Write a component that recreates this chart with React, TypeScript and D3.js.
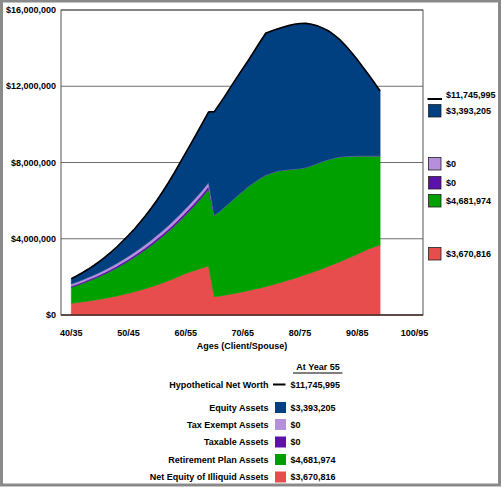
import React from "react";
import * as d3 from "d3";

// ---------- DATA (values in $ millions) ----------
const ages = [
  40, 41, 42, 43, 44, 45, 46, 47, 48, 49, 50, 51, 52, 53, 54, 55, 56, 57, 58, 59,
  60, 61, 62, 63, 64, 65, 66, 67, 68, 69, 70, 71, 72, 73, 74, 75, 76, 77, 78, 79,
  80, 81, 82, 83, 84, 85, 86, 87, 88, 89, 90, 91, 92, 93, 94,
];

const illiquid = [
  0.61, 0.65, 0.69, 0.73, 0.78, 0.83, 0.88, 0.94, 1.0, 1.07, 1.14, 1.22, 1.3, 1.39, 1.48, 1.58, 1.69, 1.8, 1.92, 2.05,
  2.18, 2.28, 2.38, 2.48, 2.57, 0.96, 1.0, 1.05, 1.1, 1.16, 1.22, 1.28, 1.35, 1.42, 1.49, 1.57, 1.65, 1.74, 1.83, 1.92,
  2.02, 2.12, 2.22, 2.33, 2.44, 2.56, 2.68, 2.8, 2.93, 3.06, 3.19, 3.33, 3.46, 3.58, 3.67,
];

const retirement = [
  0.84, 0.9, 0.97, 1.05, 1.12, 1.2, 1.29, 1.38, 1.48, 1.58, 1.69, 1.8, 1.92, 2.04, 2.17, 2.31, 2.44, 2.59, 2.74, 2.9,
  3.07, 3.28, 3.51, 3.75, 4.03, 4.29, 4.45, 4.67, 4.88, 5.09, 5.28, 5.47, 5.62, 5.75, 5.85, 5.88, 5.9, 5.86, 5.8, 5.74,
  5.67, 5.62, 5.62, 5.62, 5.62, 5.6, 5.56, 5.5, 5.4, 5.28, 5.16, 5.02, 4.89, 4.77, 4.68,
];

const taxable = [
  0.07, 0.07, 0.075, 0.08, 0.08, 0.085, 0.09, 0.09, 0.095, 0.1, 0.1, 0.105, 0.11, 0.11, 0.115, 0.12, 0.12, 0.125, 0.13, 0.13,
  0.135, 0.14, 0.14, 0.145, 0.15, 0, 0, 0, 0, 0, 0, 0, 0, 0, 0, 0, 0, 0, 0, 0,
  0, 0, 0, 0, 0, 0, 0, 0, 0, 0, 0, 0, 0, 0, 0,
];

const taxExempt = [
  0.1, 0.105, 0.11, 0.115, 0.12, 0.125, 0.13, 0.135, 0.14, 0.145, 0.15, 0.155, 0.16, 0.165, 0.17, 0.175, 0.18, 0.185, 0.19, 0.195,
  0.2, 0.2, 0.2, 0.2, 0.2, 0, 0, 0, 0, 0, 0, 0, 0, 0, 0, 0, 0, 0, 0, 0,
  0, 0, 0, 0, 0, 0, 0, 0, 0, 0, 0, 0, 0, 0, 0,
];

const equity = [
  0.28, 0.335, 0.385, 0.435, 0.51, 0.59, 0.67, 0.765, 0.865, 0.985, 1.1, 1.22, 1.36, 1.515, 1.675, 1.845, 2.05, 2.25, 2.47, 2.705,
  2.915, 3.13, 3.33, 3.525, 3.7, 5.42, 5.65, 5.83, 6.04, 6.23, 6.43, 6.63, 6.88, 7.15, 7.44, 7.45, 7.45, 7.5, 7.55, 7.59,
  7.6, 7.56, 7.41, 7.22, 6.99, 6.74, 6.44, 6.13, 5.79, 5.43, 5.05, 4.65, 4.25, 3.83, 3.4,
];

const yTicks = [0, 4, 8, 12, 16];
const xTicks = [40, 50, 60, 70, 80, 90, 100];
const xTickLabels = ["40/35", "50/45", "60/55", "70/65", "80/75", "90/85", "100/95"];

const seriesKeys = ["illiquid", "retirement", "taxable", "taxExempt", "equity"];
const seriesNames = [
  "Net Equity of Illiquid Assets",
  "Retirement Plan Assets",
  "Taxable Assets",
  "Tax Exempt Assets",
  "Equity Assets",
];
const seriesColors = ["#e84d4d", "#00a000", "#5c12aa", "#b58fdc", "#003f80"];

const netWorthLabel = "Hypothetical Net Worth";
const netWorthValue = 11745995;
const legendValues = [3670816, 4681974, 0, 0, 3393205]; // same order as seriesKeys
const legendTitle = "At Year 55";
const xAxisTitle = "Ages (Client/Spouse)";

// ---------- LAYOUT ----------
const W = 502;
const H = 487;
const plot = { left: 61, right: 423, top: 10, bottom: 315 };
const font = "'Liberation Sans', Arial, sans-serif";

export default function App() {
  const rows = ages.map((a, i) => ({
    age: a,
    illiquid: illiquid[i],
    retirement: retirement[i],
    taxable: taxable[i],
    taxExempt: taxExempt[i],
    equity: equity[i],
  }));

  const x = d3.scaleLinear().domain([38.2, 101.5]).range([plot.left, plot.right]);
  const y = d3.scaleLinear().domain([0, 16]).range([plot.bottom, plot.top]);

  const stacked = d3.stack<any>().keys(seriesKeys)(rows);

  const area = d3
    .area<any>()
    .x((d) => x(d.data.age))
    .y0((d) => y(d[0]))
    .y1((d) => y(d[1]));

  const top = stacked[stacked.length - 1];
  const line = d3
    .line<any>()
    .x((d) => x(d.data.age))
    .y((d) => y(d[1]));

  const fmt = d3.format("$,");
  const fmtAxis = (v: number) => fmt(v * 1e6);

  // right-hand legend layout (top-to-bottom: net worth, equity, tax exempt, taxable, retirement, illiquid)
  const rightOrder = [4, 3, 2, 1, 0];
  const rightBoxTops = [104.5, 157.5, 176.5, 194.5, 247.5];

  // bottom legend layout
  const bRowY = [407.5, 424.5, 442, 459.5, 477];

  return (
    <svg
      width={W}
      height={H}
      style={{ position: "absolute", left: 0, top: 0, background: "#fff" }}
      fontFamily={font}
      fontWeight="bold"
      fontSize={9}
    >
      <rect x={1.5} y={1} width={W - 4} height={H - 3} fill="#fff" stroke="#8a8a8a" strokeWidth={3} />

      {/* grid lines */}
      {yTicks.map((t) => (
        <line key={t} x1={plot.left} x2={plot.right} y1={y(t)} y2={y(t)} stroke="#6e6e6e" strokeWidth={1} />
      ))}

      {/* areas */}
      {stacked.map((s, i) => (
        <path key={s.key} d={area(s) as string} fill={seriesColors[i]} stroke={seriesColors[i]} strokeWidth={0.6} />
      ))}

      {/* net worth line */}
      <path d={line(top) as string} fill="none" stroke="#000" strokeWidth={1.6} />

      {/* frame */}
      <rect
        x={plot.left}
        y={plot.top}
        width={plot.right - plot.left}
        height={plot.bottom - plot.top}
        fill="none"
        stroke="#555"
        strokeWidth={1}
      />
      <line x1={plot.left} x2={plot.right} y1={plot.bottom} y2={plot.bottom} stroke="#3a1010" strokeWidth={1.2} />

      {/* y axis labels */}
      {yTicks.map((t) => (
        <text key={t} x={56} y={y(t)} dy="0.35em" textAnchor="end" fill="#000">
          {fmtAxis(t)}
        </text>
      ))}

      {/* x axis labels */}
      {xTicks.map((t, i) => (
        <text key={t} x={x(t)} y={333} dy="0.35em" textAnchor="middle" fill="#000">
          {xTickLabels[i]}
        </text>
      ))}
      <text x={(plot.left + plot.right) / 2} y={346} dy="0.35em" textAnchor="middle" fill="#000">
        {xAxisTitle}
      </text>

      {/* right legend */}
      <line x1={427.5} x2={442} y1={99} y2={99} stroke="#000" strokeWidth={2} />
      <text x={446} y={94.5} dy="0.35em" fill="#000">
        {fmt(netWorthValue)}
      </text>
      {rightOrder.map((si, j) => (
        <g key={si}>
          <rect
            x={428.5}
            y={rightBoxTops[j]}
            width={12.5}
            height={12.5}
            fill={seriesColors[si]}
            stroke="#222"
            strokeWidth={0.8}
          />
          <text x={446} y={rightBoxTops[j] + 6.8} dy="0.35em" fill="#000">
            {fmt(legendValues[si])}
          </text>
        </g>
      ))}

      {/* bottom legend */}
      <text x={318} y={366.5} dy="0.35em" textAnchor="middle" fill="#000">
        {legendTitle}
      </text>
      <line x1={293} x2={342.5} y1={373} y2={373} stroke="#000" strokeWidth={1} />

      <text x={268.5} y={384.5} dy="0.35em" textAnchor="end" fill="#000">
        {netWorthLabel}
      </text>
      <line x1={273} x2={285.5} y1={384.5} y2={384.5} stroke="#000" strokeWidth={2} />
      <text x={290.5} y={384.5} dy="0.35em" fill="#000">
        {fmt(netWorthValue)}
      </text>

      {rightOrder.map((si, j) => (
        <g key={"b" + si}>
          <text x={268.5} y={bRowY[j]} dy="0.35em" textAnchor="end" fill="#000">
            {seriesNames[si]}
          </text>
          <rect x={275} y={bRowY[j] - 5.5} width={11} height={11} fill={seriesColors[si]} />
          <text x={290.5} y={bRowY[j]} dy="0.35em" fill="#000">
            {fmt(legendValues[si])}
          </text>
        </g>
      ))}
    </svg>
  );
}
